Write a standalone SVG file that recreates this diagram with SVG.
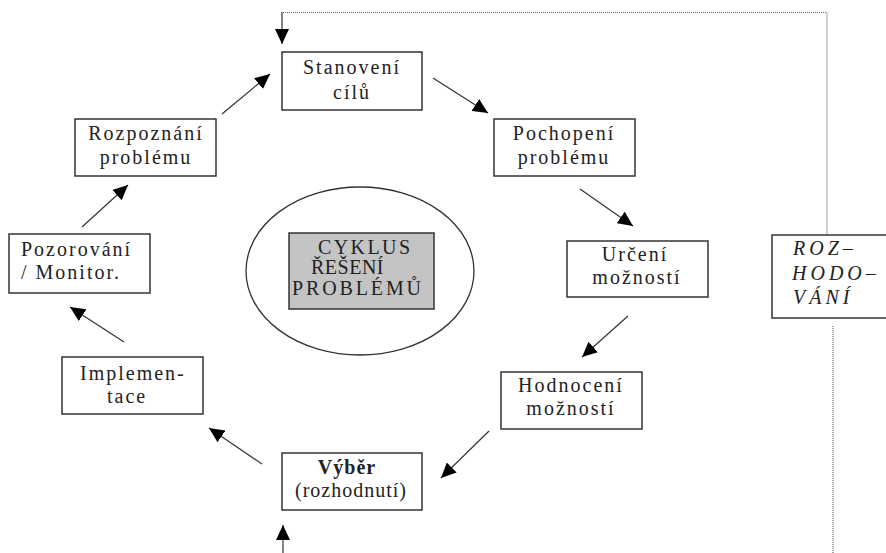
<svg xmlns="http://www.w3.org/2000/svg" width="886" height="553" viewBox="0 0 886 553">
<style>
.box{fill:#fff;stroke:#333;stroke-width:1.5}
.t{font-family:"Liberation Serif","Times New Roman",serif;font-size:20px;fill:#222;letter-spacing:2px}
.c{text-anchor:middle}
.it{font-style:italic;letter-spacing:4px}
.dot{fill:none;stroke:#666;stroke-width:1.2;stroke-dasharray:1 1}
.arr{fill:none;stroke:#333;stroke-width:1.2;marker-end:url(#ah)}
</style>
<defs>
<marker id="ah" markerUnits="userSpaceOnUse" markerWidth="16" markerHeight="14" refX="15" refY="7" orient="auto">
<path d="M0,0 L15,7 L0,14 z" fill="#000"/>
</marker>
</defs>
<rect width="886" height="553" fill="#fff"/>
<g id="center">
<ellipse cx="360" cy="271" rx="114" ry="84" fill="none" stroke="#333" stroke-width="1.3"/>
<rect x="289" y="233" width="145" height="76" fill="#c4c4c4" stroke="#333" stroke-width="1.5"/>
<text class="t" x="318" y="254" textLength="94" lengthAdjust="spacing">CYKLUS</text>
<text class="t" x="311" y="274" style="letter-spacing:0.5px">ŘEŠENÍ</text>
<text class="t" x="292" y="295" textLength="131" lengthAdjust="spacing">PROBLÉMŮ</text>
</g>
<g id="stanoveni">
<rect class="box" x="282" y="52" width="140" height="58"/>
<text class="t c" x="352" y="74">Stanovení</text>
<text class="t c" x="352" y="99">cílů</text>
</g>
<g id="pochopeni">
<rect class="box" x="494" y="119" width="141" height="57"/>
<text class="t c" x="564" y="140">Pochopení</text>
<text class="t c" x="564" y="164">problému</text>
</g>
<g id="urceni">
<rect class="box" x="567" y="241" width="141" height="56"/>
<text class="t c" x="635" y="261">Určení</text>
<text class="t c" x="637" y="284">možností</text>
</g>
<g id="hodnoceni">
<rect class="box" x="501" y="372" width="141" height="57"/>
<text class="t c" x="571" y="392">Hodnocení</text>
<text class="t c" x="571" y="415">možností</text>
</g>
<g id="vyber">
<rect class="box" x="282" y="453" width="140" height="57"/>
<text class="t c" x="347" y="474" font-weight="bold" style="letter-spacing:1px">Výběr</text>
<text class="t c" x="351" y="497" style="letter-spacing:1px">(rozhodnutí)</text>
</g>
<g id="implementace">
<rect class="box" x="62" y="357" width="141" height="57"/>
<text class="t" x="80" y="380">Implemen-</text>
<text class="t" x="107" y="403">tace</text>
</g>
<g id="pozorovani">
<rect class="box" x="9" y="234" width="141" height="59"/>
<text class="t" x="21" y="256">Pozorování</text>
<text class="t" x="21" y="279">/ Monitor.</text>
</g>
<g id="rozpoznani">
<rect class="box" x="75" y="119" width="141" height="57"/>
<text class="t c" x="146" y="140">Rozpoznání</text>
<text class="t c" x="146" y="164">problému</text>
</g>
<g id="rozhodovani">
<rect class="box" x="772" y="235" width="120" height="83"/>
<text class="t it" x="793" y="255">ROZ–</text>
<text class="t it" x="792" y="280">HODO–</text>
<text class="t it" x="793" y="304">VÁNÍ</text>
</g>
<g id="connectors">
<line class="arr" x1="222" y1="114" x2="270" y2="74"/>
<line class="arr" x1="433" y1="78" x2="488" y2="113"/>
<line class="arr" x1="580" y1="189" x2="633" y2="226"/>
<line class="arr" x1="628" y1="316" x2="582" y2="357"/>
<line class="arr" x1="489" y1="431" x2="441" y2="478"/>
<line class="arr" x1="262" y1="464" x2="209" y2="428"/>
<line class="arr" x1="124" y1="342" x2="70" y2="307"/>
<line class="arr" x1="82" y1="227" x2="128" y2="185"/>
<polyline class="dot" points="283,12.5 827,12.5 827,235"/>
<line class="dot" x1="833" y1="326" x2="833" y2="553"/>
<line class="arr" x1="282" y1="12" x2="282" y2="44"/>
<line class="arr" x1="283" y1="553" x2="283" y2="525"/>
</g>
</svg>
